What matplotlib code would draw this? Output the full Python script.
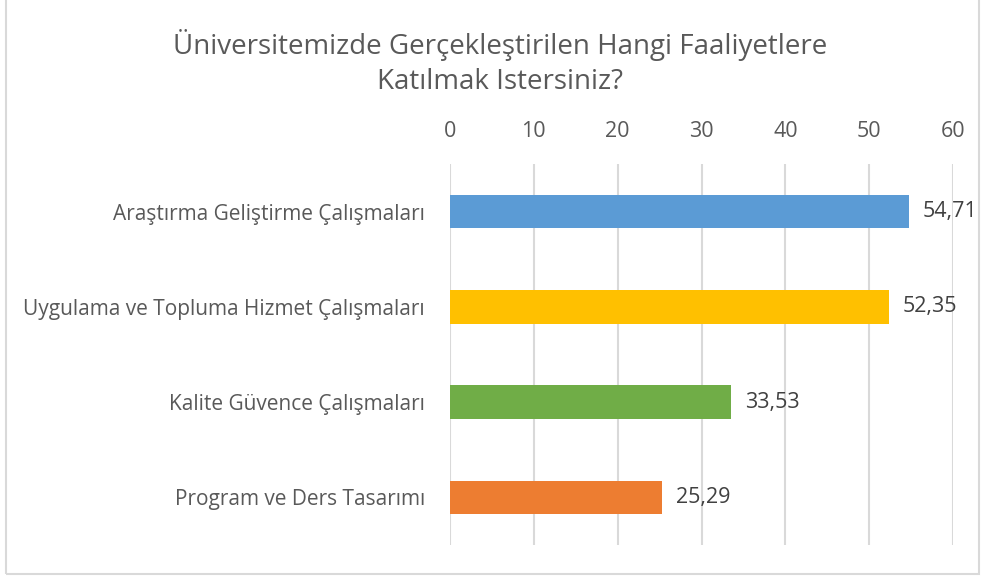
import matplotlib
matplotlib.use("Agg")
import matplotlib.pyplot as plt
from matplotlib.patches import Rectangle

categories = ["Araştırma Geliştirme Çalışmaları",
              "Uygulama ve Topluma Hizmet Çalışmaları",
              "Kalite Güvence Çalışmaları",
              "Program ve Ders Tasarımı"]
values = [54.71, 52.35, 33.53, 25.29]
value_labels = ["54,71", "52,35", "33,53", "25,29"]
colors = ["#5B9BD5", "#FFC000", "#70AD47", "#ED7D31"]
xticks = [0, 10, 20, 30, 40, 50, 60]
title = "Üniversitemizde Gerçekleştirilen Hangi Faaliyetlere\nKatılmak Istersiniz?"

plt.rcParams['font.family'] = ['Open Sans', 'DejaVu Sans']

W, H = 987, 579
fig = plt.figure(figsize=(W/100, H/100), dpi=100)
ax = fig.add_axes([450/W, 1-545/H, (953-450)/W, (545-164)/H])

y = list(range(len(categories)))
ax.barh(y, values, height=0.35, color=colors, zorder=3)
ax.set_ylim(len(categories)-0.5, -0.5)
ax.set_xlim(0, 60)
ax.set_xticks(xticks)
ax.set_xticklabels([str(t) for t in xticks])
ax.xaxis.tick_top()
ax.set_yticks(y)
ax.set_yticklabels(categories)
ax.tick_params(axis='x', length=0, pad=16, labelsize=15.5, labelcolor="#595959")
ax.tick_params(axis='y', length=0, pad=18, labelsize=15, labelcolor="#595959")
for s in ax.spines.values():
    s.set_visible(False)
ax.grid(axis='x', color="#d9d9d9", linewidth=1.5, zorder=0)
ax.set_axisbelow(True)

for yi, v, lab in zip(y, values, value_labels):
    ax.annotate(lab, (v, yi), xytext=(10, 0), textcoords='offset points',
                ha='left', va='center', fontsize=15.5, color="#404040")

fig.text(500/W, 1-62.5/H, title, ha='center', va='center', fontsize=20,
         color="#595959", linespacing=1.35)

fig.patches.append(Rectangle((6/W, 5/H), (979-6)/W, 1.0, transform=fig.transFigure,
                             fill=False, edgecolor="#d9d9d9", linewidth=1.5, clip_on=False))

fig.savefig("out.png", dpi=100)
